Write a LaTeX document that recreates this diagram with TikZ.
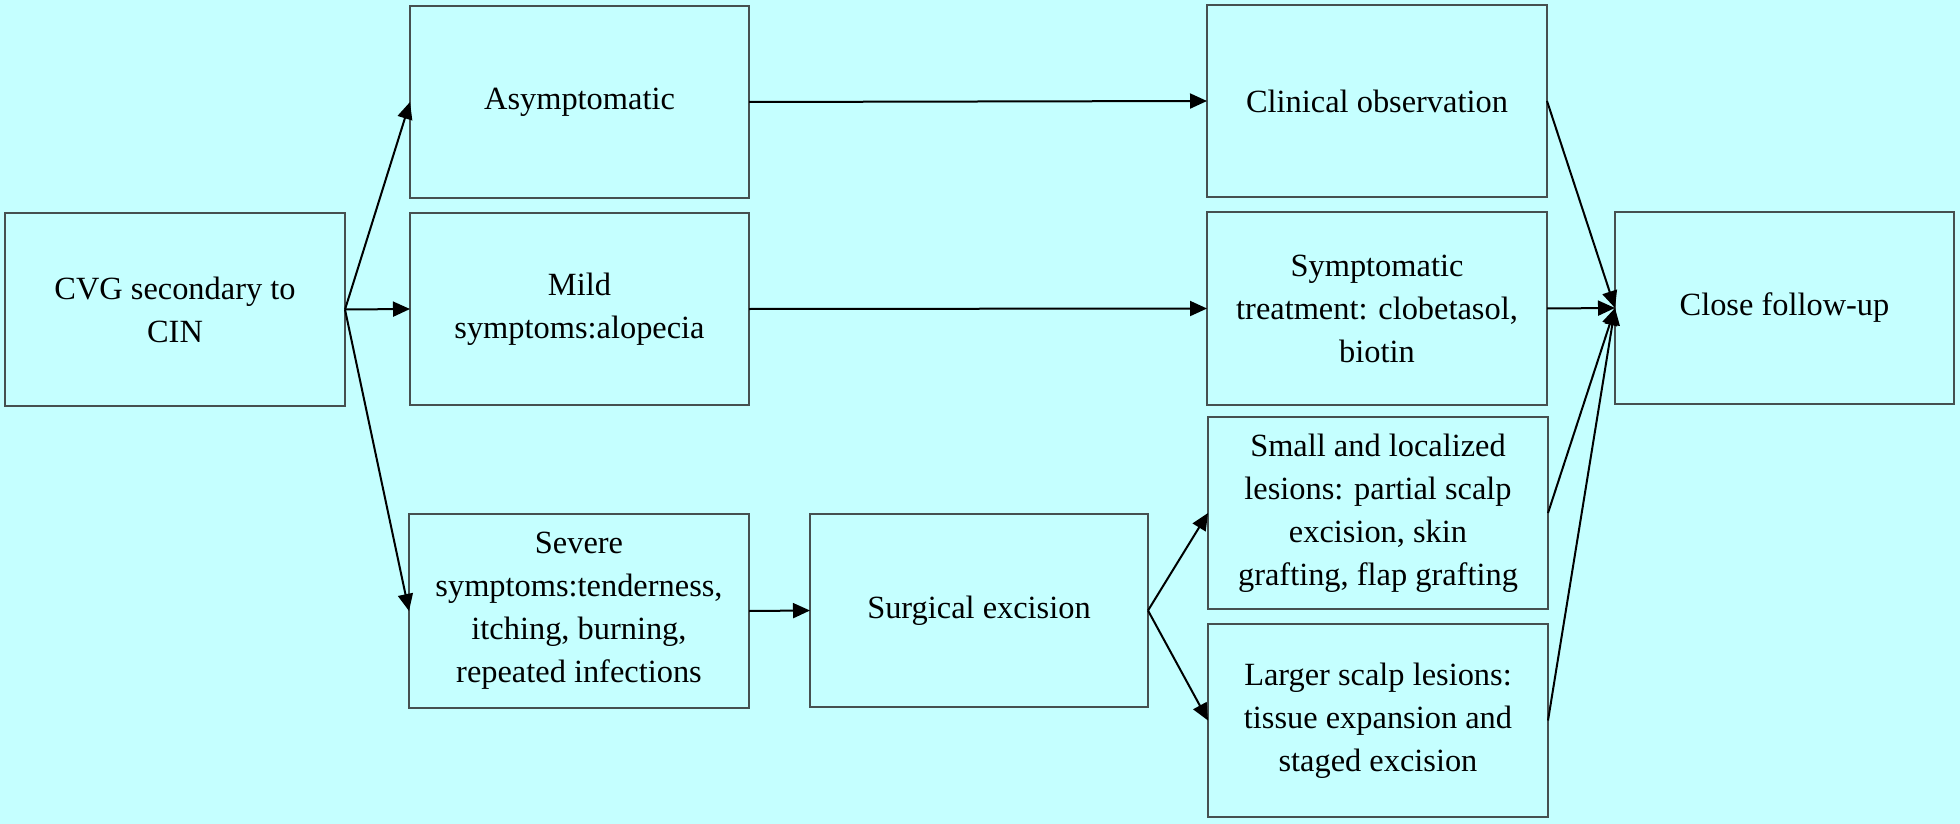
\documentclass[tikz,border=0pt]{standalone}
\usepackage{fontspec}
\setmainfont{Liberation Serif}
\usetikzlibrary{arrows.meta}
\definecolor{bgc}{RGB}{197,255,255}
\definecolor{boxline}{RGB}{70,80,80}
\tikzset{
  box/.style={draw=boxline, line width=2pt, fill=bgc, rectangle, inner sep=0pt, outer sep=0pt,
    align=center, font=\fontsize{32.4}{43}\selectfont, text=black},
  arr/.style={draw=black, line width=2pt, -{Triangle[length=17pt,width=15pt]}}
}
\begin{document}
\begin{tikzpicture}[x=1pt,y=-1pt]
\fill[bgc] (0,0) rectangle (1960,824);
\useasboundingbox (0,0) rectangle (1960,824);
\node[box, minimum width=340pt, minimum height=193pt] (cvg) at (175,309.5) {CVG secondary to\\CIN};
\node[box, minimum width=339pt, minimum height=192pt] (asym) at (579.5,102) {Asymptomatic};
\node[box, minimum width=339pt, minimum height=192pt] (mild) at (579.5,309) {Mild\\symptoms:alopecia};
\node[box, minimum width=340pt, minimum height=194pt] (severe) at (579,611) {Severe\\symptoms:tenderness,\\itching, burning,\\repeated infections};
\node[box, minimum width=338pt, minimum height=193pt] (surg) at (979,610.5) {Surgical excision};
\node[box, minimum width=340pt, minimum height=192pt] (clin) at (1377,101) {Clinical observation};
\node[box, minimum width=340pt, minimum height=193pt] (symp) at (1377,308.5) {Symptomatic\\treatment: clobetasol,\\biotin};
\node[box, minimum width=340pt, minimum height=192pt] (small) at (1378,513) {Small and localized\\lesions: partial scalp\\excision, skin\\grafting, flap grafting};
\node[box, minimum width=340pt, minimum height=193pt] (large) at (1378,720.5) {Larger scalp lesions:\\tissue expansion and\\staged excision};
\node[box, minimum width=339pt, minimum height=192pt] (close) at (1784.5,308) {Close follow-up};
\draw[arr] (cvg.east) -- (asym.west);
\draw[arr] (cvg.east) -- (mild.west);
\draw[arr] (cvg.east) -- (severe.west);
\draw[arr] (asym.east) -- (clin.west);
\draw[arr] (mild.east) -- (symp.west);
\draw[arr] (severe.east) -- (surg.west);
\draw[arr] (surg.east) -- (small.west);
\draw[arr] (surg.east) -- (large.west);
\draw[arr] (clin.east) -- (close.west);
\draw[arr] (symp.east) -- (close.west);
\draw[arr] (small.east) -- (close.west);
\draw[arr] (large.east) -- (close.west);
\end{tikzpicture}
\end{document}
